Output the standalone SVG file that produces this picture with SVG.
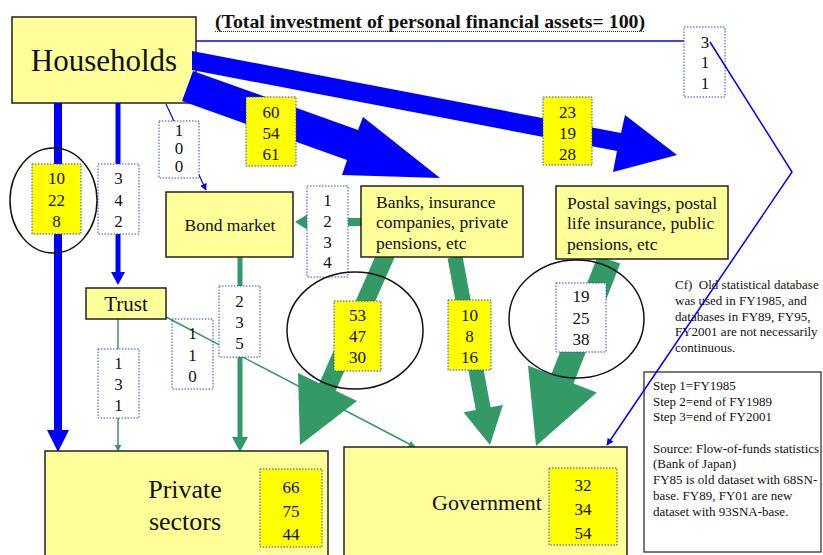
<svg xmlns="http://www.w3.org/2000/svg" width="823" height="555" viewBox="0 0 823 555" font-family="'Liberation Serif', 'Times New Roman', serif">
<defs>
<style>
text{font-family:'Liberation Serif','Times New Roman',Times,serif;fill:#111}
.node{fill:#FFFF99;stroke:#222;stroke-width:1.5}
.lb{fill:#fff;stroke:#3344dd;stroke-width:1;stroke-dasharray:1.5 1.5}
.ly{fill:#FFFF00;stroke:#3344dd;stroke-width:1;stroke-dasharray:1.5 1.5}
.num{font-size:17px;text-anchor:middle}
.mid{text-anchor:middle}
.blue{fill:#0000FF}
.green{fill:#339966}
.ell{fill:none;stroke:#111;stroke-width:1.5}
.note{font-size:13px}
</style>
<marker id="ab" viewBox="0 0 10 10" refX="9" refY="5" markerWidth="7" markerHeight="7" markerUnits="userSpaceOnUse" orient="auto"><path d="M0,0L10,5L0,10z" fill="#0000FF"/></marker>
<marker id="ag" viewBox="0 0 10 10" refX="9" refY="5" markerWidth="7" markerHeight="7" markerUnits="userSpaceOnUse" orient="auto"><path d="M0,0L10,5L0,10z" fill="#339966"/></marker>
</defs>
<rect width="823" height="555" fill="#fff"/>

<g id="title">
<text x="215" y="28" font-size="19.5" font-weight="bold" textLength="430" lengthAdjust="spacingAndGlyphs">(Total investment of personal financial assets= 100)</text>
<line x1="215" y1="31.5" x2="645" y2="31.5" stroke="#333" stroke-width="1" stroke-dasharray="1 1"/>
</g>

<g id="households">
<rect class="node" x="12" y="17" width="184" height="86"/>
<text x="104" y="71" font-size="31" class="mid">Households</text>
</g>

<g id="connectors">
<line x1="196" y1="41" x2="684" y2="41" stroke="#0000FF" stroke-width="1.5"/>
<polygon class="blue" points="192,51 621,133 625,115 677,155 613,172 617,151 192,70"/>
<polygon class="blue" points="193,71 358,130 363,117 440,178 342,175 347,160 182,101"/>
<polygon class="blue" points="54,103 62,103 62,430 69,430 58,452 47,430 54,430"/>
<polygon class="blue" points="115.5,103 120.5,103 120.5,272 125,272 118,285 111,272 115.5,272"/>
<line x1="166" y1="104" x2="206" y2="190" stroke="#0000FF" stroke-width="1.2" marker-end="url(#ab)"/>
<polygon class="green" points="361,218 307,218 307,214.5 295,222 307,229.5 307,226 361,226"/>
<polygon class="green" points="237.5,257 242.5,257 242.5,437 248,437 240,452 232,437 237.5,437"/>
<polygon class="green" points="379.8,246.2 319.3,383.2 298,373 300,445 357,401 335.7,390.8 396.2,253.8"/>
<polygon class="green" points="447.6,258.4 475.8,410 463.5,412.3 490,445 502.9,404.9 490.6,407.2 462.4,255.6"/>
<polygon class="green" points="597.8,256 551.2,374.6 528,365.4 536,446 596.8,392.6 573.6,383.4 620.2,263.4"/>
<line x1="118" y1="319" x2="118" y2="451" stroke="#339966" stroke-width="1.5" marker-end="url(#ag)"/>
<line x1="166" y1="317" x2="415" y2="447" stroke="#339966" stroke-width="1.5" marker-end="url(#ag)"/>
</g>

<g id="bond-market">
<rect class="node" x="166" y="192" width="127" height="65"/>
<text x="230" y="231" font-size="17.5" class="mid">Bond market</text>
</g>
<g id="banks">
<rect class="node" x="361" y="186" width="162" height="71"/>
<text x="376" y="208" font-size="17.5">Banks, insurance</text>
<text x="376" y="228" font-size="17.5">companies, private</text>
<text x="376" y="249" font-size="17.5">pensions, etc</text>
</g>
<g id="postal">
<rect class="node" x="556" y="186" width="172" height="73"/>
<text x="567" y="209" font-size="17.5">Postal savings, postal</text>
<text x="567" y="229" font-size="17.5">life insurance, public</text>
<text x="567" y="250" font-size="17.5">pensions, etc</text>
</g>
<g id="trust">
<rect class="node" x="86" y="288" width="80" height="31"/>
<text x="126" y="311" font-size="21" class="mid">Trust</text>
</g>
<g id="private-sectors">
<rect class="node" x="45" y="451" width="283" height="110"/>
<text x="185" y="498" font-size="26" class="mid">Private</text>
<text x="185" y="530" font-size="26" class="mid">sectors</text>
</g>
<g id="government">
<rect class="node" x="344" y="447" width="283" height="114"/>
<text x="487" y="510" font-size="22" class="mid">Government</text>
</g>

<g id="labels">
<rect class="ly" x="32" y="164" width="49" height="70"/>
<text class="num" x="56.5" y="184">10</text><text class="num" x="56.5" y="206">22</text><text class="num" x="56.5" y="227">8</text>
<rect class="lb" x="98" y="164" width="41" height="70"/>
<text class="num" x="118.5" y="184">3</text><text class="num" x="118.5" y="206">4</text><text class="num" x="118.5" y="227">2</text>
<rect class="lb" x="159" y="121" width="40" height="57"/>
<text class="num" x="179" y="136" font-size="14">1</text><text class="num" x="179" y="154" font-size="14">0</text><text class="num" x="179" y="172" font-size="14">0</text>
<rect class="ly" x="246" y="97" width="50" height="69"/>
<text class="num" x="271" y="118">60</text><text class="num" x="271" y="139">54</text><text class="num" x="271" y="160">61</text>
<rect class="ly" x="543" y="97" width="49" height="68"/>
<text class="num" x="567.5" y="118">23</text><text class="num" x="567.5" y="139">19</text><text class="num" x="567.5" y="160">28</text>
<rect class="lb" x="684" y="27" width="41" height="70"/>
<text class="num" x="705" y="48">3</text><text class="num" x="705" y="68">1</text><text class="num" x="705" y="89">1</text>
<rect class="lb" x="307" y="186" width="41" height="91"/>
<text class="num" x="327.5" y="206">1</text><text class="num" x="327.5" y="227">2</text><text class="num" x="327.5" y="248">3</text><text class="num" x="327.5" y="268">4</text>
<rect class="lb" x="219" y="286" width="41" height="71"/>
<text class="num" x="239.5" y="307">2</text><text class="num" x="239.5" y="328">3</text><text class="num" x="239.5" y="349">5</text>
<rect class="lb" x="172" y="319" width="41" height="70" style="fill:none"/>
<text class="num" x="192.5" y="339">1</text><text class="num" x="192.5" y="361">1</text><text class="num" x="192.5" y="382">0</text>
<rect class="lb" x="98" y="349" width="41" height="69"/>
<text class="num" x="118.5" y="369">1</text><text class="num" x="118.5" y="390">3</text><text class="num" x="118.5" y="411">1</text>
<rect class="ly" x="334" y="301" width="47" height="70"/>
<text class="num" x="357.5" y="321">53</text><text class="num" x="357.5" y="342">47</text><text class="num" x="357.5" y="363">30</text>
<rect class="ly" x="448" y="300" width="43" height="70"/>
<text class="num" x="469.5" y="321">10</text><text class="num" x="469.5" y="342">8</text><text class="num" x="469.5" y="363">16</text>
<rect class="lb" x="556" y="283" width="50" height="69"/>
<text class="num" x="581" y="302" font-size="18">19</text><text class="num" x="581" y="324" font-size="18">25</text><text class="num" x="581" y="345" font-size="18">38</text>
<rect class="ly" x="260" y="469" width="62" height="78"/>
<text class="num" x="291" y="493" font-size="18">66</text><text class="num" x="291" y="517" font-size="18">75</text><text class="num" x="291" y="540" font-size="18">44</text>
<rect class="ly" x="549" y="468" width="68" height="77"/>
<text class="num" x="583" y="491" font-size="18">32</text><text class="num" x="583" y="515" font-size="18">34</text><text class="num" x="583" y="539" font-size="18">54</text>
</g>

<g id="highlights">
<ellipse class="ell" cx="53.5" cy="200.5" rx="43.5" ry="52.5"/>
<ellipse class="ell" cx="355" cy="330.5" rx="68" ry="58.5"/>
<ellipse class="ell" cx="576.5" cy="319" rx="67.5" ry="59"/>
</g>

<g id="notes">
<text class="note" x="675" y="289" xml:space="preserve">Cf)  Old statistical database</text>
<text class="note" x="675" y="305">was used in FY1985, and</text>
<text class="note" x="675" y="321">databases in FY89, FY95,</text>
<text class="note" x="675" y="336">FY2001 are not necessarily</text>
<text class="note" x="675" y="352">continuous.</text>
<rect x="644" y="372" width="177" height="180" fill="none" stroke="#222" stroke-width="1.2"/>
<text class="note" x="653" y="390" font-size="12.5">Step 1=FY1985</text>
<text class="note" x="653" y="406" font-size="12.5">Step 2=end of FY1989</text>
<text class="note" x="653" y="421" font-size="12.5">Step 3=end of FY2001</text>
<text class="note" x="653" y="453">Source: Flow-of-funds statistics</text>
<text class="note" x="653" y="468">(Bank of Japan)</text>
<text class="note" x="653" y="484">FY85 is old dataset with 68SN-</text>
<text class="note" x="653" y="500">base. FY89, FY01 are new</text>
<text class="note" x="653" y="516">dataset with 93SNA-base.</text>
</g>

<g id="connector-311">
<polyline points="710,42 792,172 607,445" fill="none" stroke="#0000FF" stroke-width="1.5" marker-end="url(#ab)"/>
</g>
</svg>
